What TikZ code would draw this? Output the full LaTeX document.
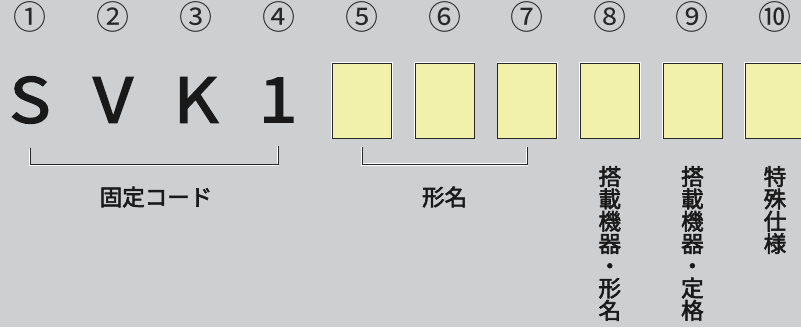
\documentclass[tikz,border=0pt]{standalone}
\usepackage{fontspec}
\newfontfamily\jpfont{Noto Sans CJK JP}
\newfontfamily\jpmedium[FakeBold=2.5]{Noto Sans CJK JP}
\newfontfamily\jpcode[FakeBold=2.2]{Noto Sans CJK JP}
\definecolor{paper}{RGB}{206,207,208}
\definecolor{boxyellow}{RGB}{242,241,172}
\definecolor{inkgray}{RGB}{40,40,40}

\begin{document}
\begin{tikzpicture}[x=1pt, y=-1pt,
	numlabel/.style={font=\jpfont\fontsize{33}{33}\selectfont, text=inkgray, inner sep=0pt},
	codechar/.style={font=\jpcode\fontsize{62}{62}\selectfont, text=black!90, inner sep=0pt, xscale=1.12},
	codebox/.style={draw=inkgray, line width=0.8pt, fill=boxyellow, minimum width=59pt, minimum height=75pt, inner sep=0pt,
		preaction={draw=white, line width=2.4pt}},
	bracket/.style={draw=inkgray, line width=0.8pt, preaction={draw=white, line width=2.2pt}},
	itemlabel/.style={font=\jpmedium\fontsize{22.5}{22.3}\selectfont, text=black!90, align=center, inner sep=0pt}]
	%background, fixes the size
	\fill[paper] (0,0) rectangle (801,327);
	\useasboundingbox (0,0) rectangle (801,327);
	
	%position numbers
	\foreach \n/\x/\c in {1/30/①, 2/113/②, 3/196/③, 4/279/④, 5/362/⑤, 6/444.6/⑥, 7/527.2/⑦, 8/609.8/⑧, 9/692.4/⑨, 10/775/⑩}
		\node[numlabel] (num\n) at (\x,17) {\c};
	
	%fixed part of the code
	\node[codechar] (s) at (30,100) {S};
	\node[codechar] (v) at (113,100) {V};
	\node[codechar] (k) at (196,100) {K};
	\node[codechar] (one) at (278,100) {1};
	
	%empty boxes
	\foreach \n/\x in {5/362, 6/444.6, 7/527.2, 8/609.8, 9/692.4, 10/775}
		\node[codebox] (box\n) at (\x,100.5) {};
	
	%brackets
	\draw[bracket] ([yshift=-24pt]s.south) -- ++(0,17) -| ([yshift=-24pt]one.south);
	\draw[bracket] ([yshift=-9pt]box5.south) -- ++(0,17) -| ([yshift=-9pt]box7.south);
	
	%labels
	\node[itemlabel] (fixed) at (156,197) {固定コード};
	\node[itemlabel] (model) at (444.6,197) {形名};
	\node[itemlabel, anchor=north] (devmodel) at (609.8,166) {搭\\載\\機\\器\\・\\形\\名};
	\node[itemlabel, anchor=north] (devrating) at (692.4,166) {搭\\載\\機\\器\\・\\定\\格};
	\node[itemlabel, anchor=north] (special) at (775,166) {特\\殊\\仕\\様};
\end{tikzpicture}
\end{document}
